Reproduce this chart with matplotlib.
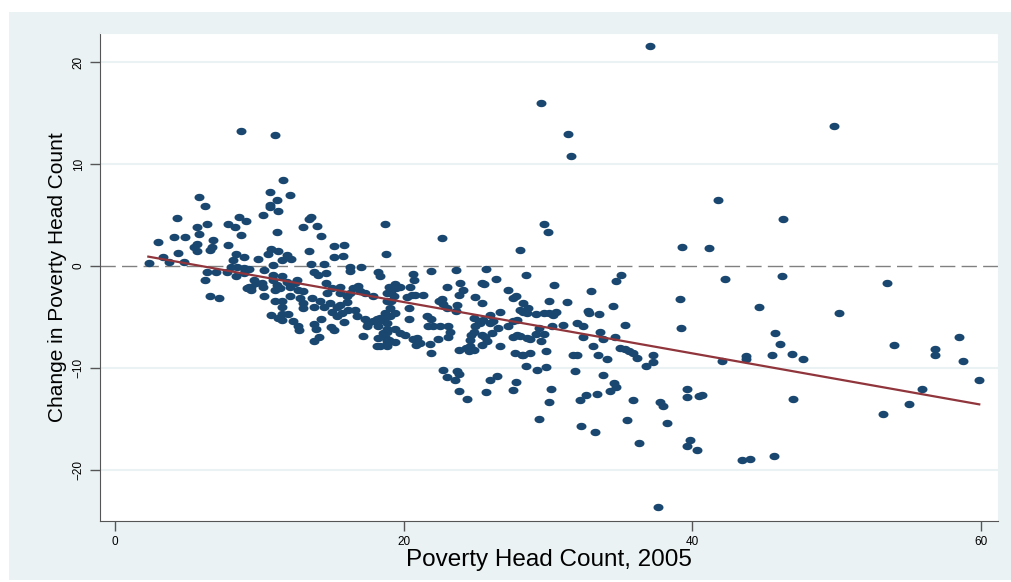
import numpy as np
import matplotlib
matplotlib.use('Agg')
import matplotlib.pyplot as plt
from matplotlib.patches import Rectangle

plt.rcParams['font.family'] = ['Liberation Sans Narrow', 'Liberation Sans', 'DejaVu Sans']

# poverty head count 2005 (x) and change in poverty head count (y)
pts = [
    (8.7, 13.2), (5.8, 6.8), (6.2, 5.9), (4.3, 4.7), (5.7, 3.8), (6.4, 4.1), (7.8, 4.1), (8.3, 3.8),
    (8.6, 4.8), (9.05, 4.4), (8.7, 3.0), (4.1, 2.8), (4.85, 2.8), (5.8, 3.1), (6.8, 2.55), (2.95, 2.35),
    (5.65, 2.1), (5.5, 1.85), (6.7, 1.85), (6.6, 1.55), (5.65, 1.45), (7.8, 2.05), (8.4, 1.2), (8.2, 0.6),
    (8.9, 0.85), (4.35, 1.3), (3.35, 0.9), (3.7, 0.4), (4.75, 0.4), (2.35, 0.25), (6.35, -0.65), (7.0, -0.65),
    (7.75, -0.65), (8.4, -1.05), (8.0, -0.1), (8.45, -0.15), (8.9, -0.25), (9.25, -0.3), (6.25, -1.35),
    (6.55, -2.95), (7.2, -3.2), (9.25, -2.1),
    (11.1, 12.85), (11.65, 8.45), (10.75, 7.2), (12.15, 6.95), (11.25, 6.5), (10.75, 6.0), (10.75, 5.75),
    (11.3, 5.4), (10.25, 5.0), (11.2, 3.35), (13.45, 4.6), (13.6, 4.75), (13.0, 3.85), (14.0, 3.95),
    (14.3, 2.9), (13.45, 1.45), (15.2, 1.95), (15.85, 2.05), (15.15, 0.85), (15.8, 1.0), (18.7, 4.1),
    (18.75, 1.2), (9.9, 0.65), (10.6, 1.2), (10.8, 1.65), (11.3, 1.5), (11.6, 0.6), (11.9, 1.1), (12.2, 0.65),
    (10.95, 0.05), (13.6, 0.2), (13.8, -0.6), (14.05, -0.9), (14.5, 0.15), (14.6, -0.7), (16.25, -0.15),
    (16.3, -0.55), (17.05, -0.15), (18.25, -0.6), (18.35, -1.05), (9.15, -0.3), (8.9, -0.7), (10.3, -0.45),
    (10.95, -0.9), (11.55, -1.05), (9.6, -1.35), (9.75, -1.7), (9.45, -2.05), (9.45, -2.35), (9.15, -2.2),
    (10.15, -1.7), (10.25, -2.05), (10.95, -1.35), (11.2, -1.85), (11.45, -2.2), (11.1, -2.35), (11.9, -1.55),
    (12.15, -2.05), (12.45, -1.7), (12.6, -1.35), (12.7, -2.35), (13.05, -2.5), (14.65, -1.7), (14.7, -2.7),
    (15.0, -2.2), (15.6, -2.05), (15.6, -2.7), (16.05, -3.0), (16.3, -2.7), (16.5, -2.2), (16.85, -1.95),
    (17.0, -2.5), (17.35, -2.7), (17.9, -3.0), (18.85, -2.7), (10.35, -3.0), (11.1, -3.5), (11.55, -3.5),
    (11.55, -4.0), (12.15, -3.0), (12.8, -3.15), (13.05, -3.65), (13.0, -4.15), (13.65, -3.15), (13.75, -4.0),
    (14.2, -3.5), (14.45, -4.0), (14.3, -5.25), (14.9, -3.65), (15.0, -4.5), (15.35, -4.0), (15.6, -3.8),
    (15.7, -4.6), (16.15, -4.3), (16.05, -3.6), (10.8, -4.8), (11.55, -4.7), (11.3, -5.15), (11.6, -5.3),
    (12.0, -4.7), (12.35, -5.45), (12.7, -5.95), (12.75, -6.35), (13.8, -5.7), (13.95, -6.2), (14.95, -6.0),
    (15.15, -6.35), (15.35, -4.95), (15.85, -5.55), (13.8, -7.4), (14.15, -6.95), (16.65, -4.3), (16.75, -4.95),
    (17.35, -5.25), (17.55, -5.6), (17.45, -5.95), (17.9, -5.45), (18.15, -5.25), (18.25, -5.95), (18.5, -5.3),
    (18.85, -5.6), (18.85, -6.25), (18.6, -6.6), (17.15, -6.85), (18.25, -7.1), (18.15, -7.9), (18.85, -7.4),
    (18.85, -7.85), (18.7, -4.65), (18.85, -4.95),
    (22.65, 2.7), (28.05, 1.55), (20.65, -0.8), (20.75, -1.35), (21.9, -0.55), (23.6, -0.45), (25.7, -0.3),
    (26.4, -1.25), (28.45, -0.95), (23.9, -1.7), (24.1, -2.35), (23.85, -2.85), (23.0, -2.1), (25.4, -1.7),
    (25.55, -1.8), (27.2, -2.4), (27.6, -3.15), (27.8, -3.0), (24.95, -3.05), (25.4, -3.65), (18.95, -2.1),
    (19.4, -1.75), (19.5, -2.2), (19.75, -2.05), (19.15, -2.7), (19.3, -3.0), (20.45, -2.1), (20.55, -2.85),
    (20.8, -2.85), (21.35, -2.9), (20.2, -3.05), (18.85, -3.5), (19.15, -3.5), (19.05, -4.15), (22.65, -3.25),
    (22.75, -3.75), (22.45, -3.5), (23.0, -4.15), (23.7, -3.8), (23.65, -4.4), (20.35, -4.15), (20.35, -5.25),
    (19.4, -4.65), (19.05, -4.9), (18.35, -5.1), (18.85, -6.45), (19.4, -6.25), (19.75, -6.6), (20.1, -6.75),
    (21.6, -4.95), (21.9, -5.25), (21.7, -5.95), (22.05, -5.95), (22.5, -5.95), (23.1, -5.95), (23.2, -6.45),
    (23.1, -7.0), (22.35, -7.2), (21.8, -7.65), (21.9, -8.55), (18.7, -6.95), (18.95, -7.25), (18.85, -7.65),
    (19.4, -7.5), (18.35, -7.9), (20.65, -7.2), (20.9, -7.1), (21.15, -7.6), (20.85, -7.75), (23.85, -8.3),
    (24.35, -8.05), (24.6, -7.9), (24.55, -8.4), (24.85, -8.25), (24.6, -7.25), (24.65, -6.75), (24.85, -6.45),
    (24.95, -5.95), (25.2, -5.45), (25.3, -5.6), (24.85, -5.15), (25.4, -6.75), (25.65, -6.95), (25.75, -7.4),
    (26.0, -5.6), (26.2, -5.45), (26.1, -6.6), (26.55, -6.1), (26.7, -4.5), (26.0, -4.8), (25.5, -5.3),
    (25.4, -7.75), (26.65, -7.9), (28.3, -3.65), (28.55, -4.65), (28.05, -4.3), (27.25, -5.95), (27.6, -5.45),
    (27.85, -5.3), (27.6, -6.95), (27.85, -6.75), (27.7, -8.55), (28.3, -8.75), (28.55, -7.1), (28.5, -9.85),
    (22.7, -10.25), (23.0, -10.95), (23.55, -11.25), (23.7, -10.35), (23.85, -10.6), (23.85, -12.25),
    (24.4, -13.05), (25.7, -12.4), (26.0, -11.2), (26.5, -10.8), (27.8, -11.45), (27.6, -12.15),
    (29.75, 4.1), (30.0, 3.35), (30.45, -1.85), (33.0, -2.45), (35.1, -0.95), (34.75, -1.45), (34.5, -3.9),
    (31.35, -3.6), (30.05, -3.5), (28.65, -4.15), (28.3, -4.5), (29.2, -4.75), (29.7, -4.65), (30.05, -4.65),
    (30.35, -4.8), (30.55, -4.5), (32.8, -4.4), (32.85, -4.65), (33.55, -4.7), (28.05, -6.85), (28.75, -7.2),
    (29.4, -6.1), (29.2, -6.65), (29.75, -6.65), (29.5, -7.4), (30.25, -5.9), (31.05, -5.85), (29.9, -8.4),
    (28.2, -8.8), (28.75, -8.55), (29.25, -10.25), (29.85, -9.95), (32.0, -5.6), (32.4, -5.95), (32.4, -7.0),
    (33.6, -6.45), (33.1, -7.85), (33.85, -7.2), (33.5, -8.75), (34.1, -9.1), (34.65, -7.0), (35.35, -5.8),
    (35.0, -8.05), (35.35, -8.15), (35.65, -8.4), (35.9, -8.55), (36.15, -9.05), (36.8, -9.8), (37.25, -8.8),
    (37.25, -9.4), (31.75, -8.8), (32.0, -8.75), (31.85, -10.35), (33.8, -10.75), (34.6, -11.55),
    (34.75, -11.85), (34.3, -12.3), (33.4, -12.55), (32.65, -12.7), (32.25, -13.15), (30.2, -12.1),
    (30.1, -13.35), (29.35, -15.05), (32.3, -15.7), (33.25, -16.35), (35.9, -13.15), (35.5, -15.15),
    (36.3, -17.4), (37.75, -13.4), (38.0, -13.8), (38.25, -15.4),
    (41.8, 6.5), (46.3, 4.6), (39.3, 1.8), (41.2, 1.75), (42.25, -1.25), (46.25, -1.0), (53.5, -1.65),
    (39.15, -3.3), (44.65, -4.05), (50.15, -4.65), (39.2, -6.1), (45.75, -6.6), (46.1, -7.7), (45.5, -8.75),
    (46.9, -8.65), (47.65, -9.1), (43.75, -8.9), (43.75, -9.15), (42.1, -9.35), (54.0, -7.75), (56.85, -8.15),
    (56.85, -8.8), (58.5, -6.95), (58.8, -9.3), (59.9, -11.2), (55.9, -12.1), (55.05, -13.6), (53.25, -14.5),
    (47.0, -13.1), (39.65, -12.1), (39.65, -12.85), (40.5, -12.8), (40.7, -12.65), (39.85, -17.1),
    (39.65, -17.65), (40.3, -18.05), (43.45, -19.1), (44.0, -18.95), (45.7, -18.65),
    (37.1, 21.6), (29.5, 16.0), (31.4, 12.95), (31.6, 10.8), (49.8, 13.75), (37.65, -23.7),
]
pov_2005 = [p[0] for p in pts]
pov_change = [p[1] for p in pts]

# fitted line end points
fit_x = [2.3, 59.9]
fit_y = [0.9, -13.6]

x_ticks = [0, 20, 40, 60]
y_ticks = [-20, -10, 0, 10, 20]

fig = plt.figure(figsize=(10.11, 5.82), dpi=100)
fig.patch.set_facecolor('white')
fig.patches.append(Rectangle((9 / 1011, 2 / 582), 1, 568 / 582, transform=fig.transFigure,
                             facecolor='#eaf2f3', edgecolor='none', zorder=-10))

ax = fig.add_axes([100 / 1011, 61.5 / 582, 898 / 1011, 487.5 / 582])
ax.set_facecolor('white')

for yv in y_ticks:
    if yv != 0:
        ax.axhline(yv, color='#eaf2f3', lw=1.5, zorder=1)
ax.axhline(0, color='#808080', lw=1.0, linestyle=(0, (11, 4.5)), zorder=1)

t = np.linspace(0, 2 * np.pi, 40)
ell = np.column_stack([np.cos(t) * 1.0, np.sin(t) * 0.74])
ax.plot(pov_2005, pov_change, linestyle='none', marker=ell, markersize=7.2,
        color='#1a476f', markeredgewidth=0, zorder=3)
ax.plot(fit_x, fit_y, color='#90353b', lw=1.6, zorder=4)

ax.set_xlim(-1.05, 61.2)
ax.set_ylim(-25, 22.85)
ax.set_xticks(x_ticks)
ax.set_yticks(y_ticks)
ax.tick_params(axis='both', length=7, width=1, color='#555555', labelsize=8.5, pad=4)
ax.tick_params(axis='y', labelrotation=90)
for lab in ax.get_yticklabels():
    lab.set_va('center')

for s in ['top', 'right']:
    ax.spines[s].set_color('#eaf2f3')
ax.spines['left'].set_color('#555555')
ax.spines['bottom'].set_color('#555555')

ax.set_xlabel('Poverty Head Count, 2005', fontsize=17.5, labelpad=1)
ax.set_ylabel('Change in Poverty Head Count', fontsize=15, labelpad=4)

fig.savefig('out.png', dpi=100)
